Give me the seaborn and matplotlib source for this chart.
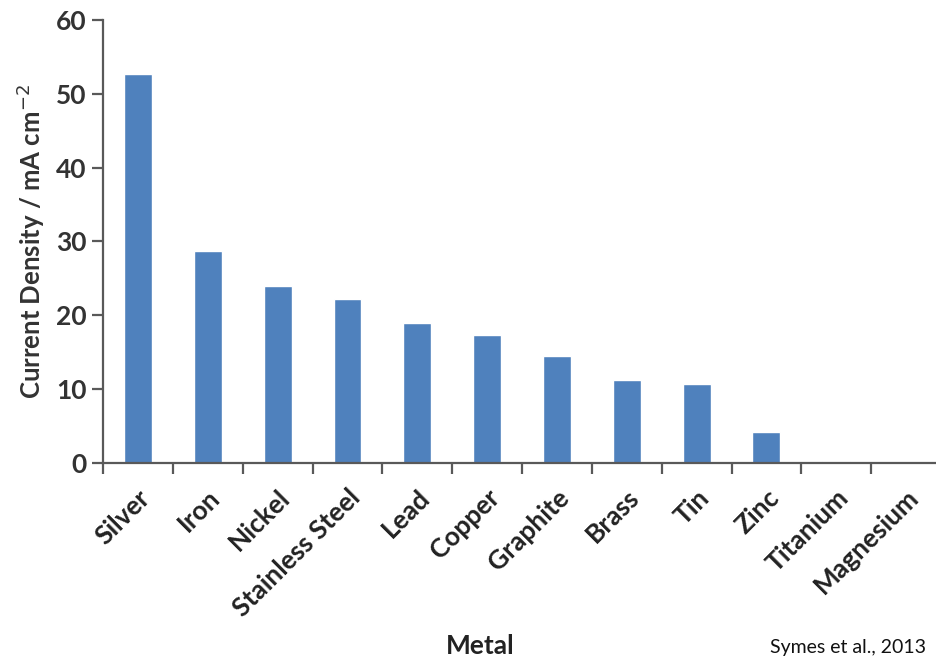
import matplotlib
matplotlib.use("Agg")
import matplotlib.pyplot as plt
from matplotlib.ticker import FixedLocator
import seaborn as sns
import pandas as pd
import numpy as np

metals = ["Silver", "Iron", "Nickel", "Stainless Steel", "Lead", "Copper",
          "Graphite", "Brass", "Tin", "Zinc", "Titanium", "Magnesium"]
current_density = [52.7, 28.7, 24.0, 22.2, 19.0, 17.4, 14.5, 11.3, 10.7, 4.2, 0.3, 0.0]
y_ticks = [0, 10, 20, 30, 40, 50, 60]

sns.set_theme(style="white")
plt.rcParams["font.family"] = ["Lato", "DejaVu Sans"]

df = pd.DataFrame({"Metal": metals, "Current Density": current_density})

fig = plt.figure(figsize=(9.37, 6.59), dpi=100)
ax = fig.add_axes([0.110, 0.2974, 0.8943, 0.6723])

sns.barplot(data=df, x="Metal", y="Current Density", color="#4F81BD",
            saturation=1, width=0.4, ax=ax)

axis_color = "#595959"
ax.set_xlim(-0.5, len(metals) - 0.5)
ax.set_ylim(0, 60)
ax.set_yticks(y_ticks)
ax.set_yticklabels([str(v) for v in y_ticks], fontsize=19, fontweight="bold",
                   color="#333333")

ax.set_xticks(range(len(metals)))
ax.set_xticklabels(metals, rotation=45, ha="right", rotation_mode="anchor",
                   fontsize=19, fontweight="bold", color="#222222")
ax.xaxis.set_minor_locator(FixedLocator(np.arange(-0.5, len(metals), 1.0)))
ax.tick_params(axis="x", which="major", length=0, pad=16)
ax.tick_params(axis="x", which="minor", length=8, width=1.6,
               color=axis_color, direction="out", bottom=True)
ax.tick_params(axis="y", length=8, width=1.6, color=axis_color,
               direction="out", left=True, pad=4)

for side in ("top", "right"):
    ax.spines[side].set_visible(False)
for side in ("left", "bottom"):
    ax.spines[side].set_color(axis_color)
    ax.spines[side].set_linewidth(1.6)

ax.set_xlabel("")
ax.set_ylabel("Current Density / mA cm$^{-2}$", fontsize=18.5,
              fontweight="bold", color="#333333", labelpad=6)

fig.text(0.512, 0.0197, "Metal", ha="center", va="center", fontsize=19,
         fontweight="bold", color="#222222")
fig.text(0.822, 0.030, "Symes et al., 2013", ha="left", va="top",
         fontsize=14, color="#111111")

fig.savefig("out.png", dpi=100)
